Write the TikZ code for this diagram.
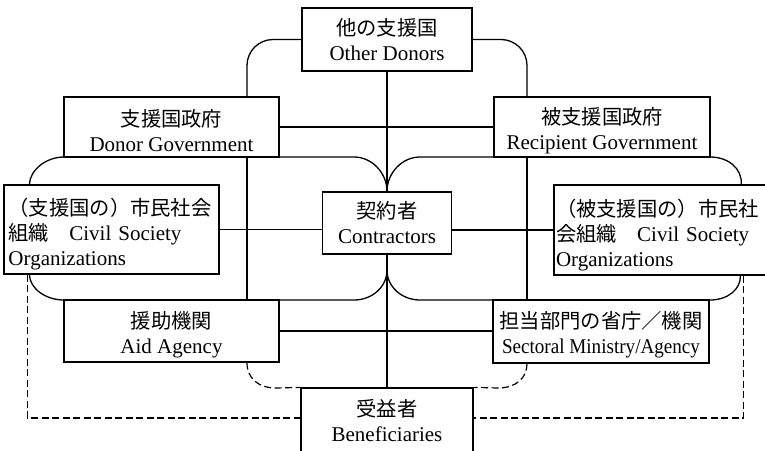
\documentclass[tikz,border=0pt]{standalone}
\usepackage{fontspec}
\usepackage{graphicx}
\setmainfont{Liberation Serif}
\newfontfamily\jp{Noto Sans CJK JP}
\usetikzlibrary{backgrounds}
\newcommand\J[1]{{\jp\fontsize{20.3}{25}\selectfont #1}}
\newcommand\Tstrut[1]{\rule{0pt}{#1}}
\tikzset{
  box/.style={draw, line width=1.3pt, fill=white, inner sep=0pt, align=center,
    font=\fontsize{21}{25}\selectfont},
  conn/.style={line width=1.3pt},
  dconn/.style={line width=1.2pt, dash pattern=on 7pt off 3.5pt},
}
\begin{document}
\begin{tikzpicture}[x=1pt,y=-1pt]
\useasboundingbox (0,0) rectangle (765,450);
\node[box, minimum width=170pt, minimum height=63pt] (od) at (387,39.5) {\J{他の支援国}\\Other Donors};
\node[box, minimum width=215pt, minimum height=60pt] (dg) at (171.5,127) {\Tstrut{24pt}\J{支援国政府}\\Donor Government};
\node[box, minimum width=216pt, minimum height=60pt] (rg) at (602,127) {\Tstrut{24pt}\J{被支援国政府}\\Recipient Government};
\node[box, align=left, text width=206pt, inner xsep=4.5pt, minimum height=89pt] (lcso) at (111.5,229.5)
  {\Tstrut{27pt}\J{（支援国の）市民社会}\\\J{組織　}Civil Society\\Organizations};
\node[box, minimum width=129pt, minimum height=62pt] (ct) at (387,223) {\J{契約者}\\Contractors};
\node[box, align=left, text width=214pt, inner xsep=2pt, minimum height=90pt] (rcso) at (663,230)
  {\Tstrut{27pt}\J{（被支援国の）市民社}\\\J{会組織　}Civil Society\\Organizations};
\node[box, minimum width=215pt, minimum height=62pt] (aa) at (171.5,331) {\Tstrut{24pt}\J{援助機関}\\Aid Agency};
\node[box, minimum width=216pt, minimum height=63pt] (sm) at (601,331.5) {\Tstrut{23pt}\J{担当部門の省庁／機関}\\\scalebox{0.91}[1]{Sectoral Ministry/Agency}};
\node[box, minimum width=172pt, minimum height=66pt] (bn) at (387,421) {\J{受益者}\\Beneficiaries};
\coordinate (xl) at (247,0);
\coordinate (xr) at (527,0);
\coordinate (cb) at (387,270);
\begin{scope}[on background layer]
  \draw[conn, rounded corners=26pt] (od.west) -| (dg.north -| xl);
  \draw[conn, rounded corners=26pt] (od.east) -| (rg.north -| xr);
  \draw[conn] (od.south) -- (bn.north);
  \draw[conn] (dg.east) -- (rg.west);
  \draw[conn] (lcso.east) -- (lcso.east -| ct.west);
  \draw[conn] (ct.east |- rcso.west) -- (rcso.west);
  \draw[conn] (aa.east) -- (aa.east -| sm.west);
  \draw[conn] (dg.south -| xl) -- (aa.north -| xl);
  \draw[conn] (rg.south -| xr) -- (sm.north -| xr);
  \draw[conn] ([xshift=26pt]lcso.north west) .. controls (30,170) and (46,157) .. (64,157)
    -- (354,157) .. controls (372,157) and (387,173) .. (ct.north);
  \draw[conn] (ct.north) .. controls (387,173) and (402,157) .. (420,157)
    -- (710,157) .. controls (728,157) and (742,168) .. ([xshift=188pt]rcso.north west);
  \draw[conn] ([xshift=26pt]lcso.south west) .. controls (30,289) and (46,300) .. (64,300)
    -- (354,300) .. controls (372,300) and (387,287) .. (cb);
  \draw[conn] (cb) .. controls (387,287) and (402,300) .. (420,300)
    -- (710,300) .. controls (728,300) and (741,289) .. ([xshift=187pt]rcso.south west);
  \draw[dconn] (aa.south -| xl) .. controls (247,378) and (258,388) .. (276,388) -- (bn.north west);
  \draw[dconn] (sm.south -| xr) .. controls (527,378) and (516,388) .. (498,388) -- (bn.north east);
  \draw[dconn] ([xshift=24pt]lcso.south west) |- ([yshift=3pt]bn.west);
  \draw[dconn] ([xshift=190pt]rcso.south west) |- ([yshift=3pt]bn.east);
\end{scope}
\end{tikzpicture}
\end{document}
